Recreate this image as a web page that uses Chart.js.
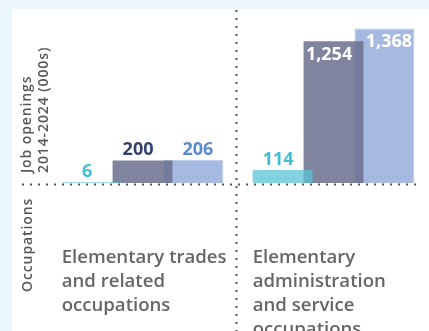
<!DOCTYPE html>
<html>
<head>
<meta charset="utf-8">
<script src="https://cdn.jsdelivr.net/npm/chart.js@4.4.1/dist/chart.umd.min.js"></script>
<style>
  html, body { margin: 0; padding: 0; overflow: hidden; }
  body { width: 429px; height: 331px; background: #eaf6f9; position: relative; }
  .panel { position: absolute; left: 12px; top: 9px; right: 0; bottom: 0; background: #fff; }
  canvas { position: absolute; left: 0; top: 0; }
</style>
</head>
<body>
<div class="panel"></div>
<canvas id="jobsChart" width="429" height="331"></canvas>
<script>
// Job openings 2014-2024, in thousands
const occupations = [
    ['Elementary trades', 'and related', 'occupations'],
    ['Elementary', 'administration', 'and service', 'occupations']
];
const expansionDemand = [6, 114];
const replacementDemand = [200, 1254];
const totalOpenings = [206, 1368];
const valueHeader = ['Job openings', '2014-2024 (000s)'];
const categoryHeader = 'Occupations';

const FONT = '"Open Sans", "Noto Sans", sans-serif';

// Dotted rules: one along the baseline, one between the two occupations
const dottedRules = {
    id: 'dottedRules',
    afterDatasetsDraw(chart) {
        const ctx = chart.ctx;
        const x = chart.scales.x;
        const y = chart.scales.y;
        const baseY = y.getPixelForValue(0) + 1.5;
        const midX = Math.round((x.getPixelForValue(0) + x.getPixelForValue(1)) / 2) - 1.5;
        ctx.save();
        ctx.strokeStyle = '#555';
        ctx.lineWidth = 2;
        ctx.setLineDash([2, 6]);
        ctx.beginPath();
        ctx.moveTo(22, baseY);
        ctx.lineTo(chart.width - 8, baseY);
        ctx.stroke();
        ctx.beginPath();
        ctx.moveTo(midX, 10);
        ctx.lineTo(midX, chart.height);
        ctx.stroke();
        ctx.restore();
    }
};

// Value labels: above short bars, inside the top of tall ones
const valueLabels = {
    id: 'valueLabels',
    afterDatasetsDraw(chart) {
        const ctx = chart.ctx;
        const metas = chart.getSortedVisibleDatasetMetas();
        ctx.save();
        ctx.font = 'bold 18px ' + FONT;
        ctx.textAlign = 'center';
        ctx.textBaseline = 'alphabetic';
        metas.forEach((meta, i) => {
            const ds = chart.data.datasets[meta.index];
            meta.data.forEach((bar, j) => {
                const p = bar.getProps(['x', 'y', 'base', 'width'], true);
                let from = p.x - p.width / 2;
                let to = p.x + p.width / 2;
                // centre the label on the part of the bar that is not overlapped
                if (i < metas.length - 1) {
                    const next = metas[i + 1].data[j].getProps(['x', 'width'], true);
                    to = next.x - next.width / 2;
                } else if (i > 0) {
                    const prev = metas[i - 1].data[j].getProps(['x', 'width'], true);
                    from = prev.x + prev.width / 2;
                }
                const inside = p.base - p.y > 60;
                ctx.fillStyle = inside ? '#fff' : ds.labelColor;
                ctx.fillText(ds.data[j].toLocaleString('en-US'), (from + to) / 2, inside ? p.y + 19 : p.y - 5);
            });
        });
        ctx.restore();
    }
};

// Occupation names under each group, plus the rotated row headers
const categoryLabels = {
    id: 'categoryLabels',
    afterDraw(chart) {
        const ctx = chart.ctx;
        const area = chart.chartArea;
        const first = chart.getDatasetMeta(0);
        ctx.save();
        ctx.fillStyle = '#666';
        ctx.textAlign = 'left';
        ctx.textBaseline = 'alphabetic';
        ctx.font = '600 18.6px ' + FONT;
        chart.data.labels.forEach((lines, j) => {
            const p = first.data[j].getProps(['x', 'width'], true);
            lines.forEach((line, k) => {
                ctx.fillText(line, p.x - p.width / 2, area.bottom + 80 + k * 24);
            });
        });

        ctx.fillStyle = '#585858';
        ctx.font = '600 14px ' + FONT;
        ctx.letterSpacing = '0.9px';
        valueHeader.forEach((line, k) => {
            ctx.save();
            ctx.translate(31 + k * 16.5, area.bottom - 10);
            ctx.rotate(-Math.PI / 2);
            ctx.fillText(line, 0, 0);
            ctx.restore();
        });
        ctx.save();
        ctx.translate(31.5, area.bottom + 109);
        ctx.rotate(-Math.PI / 2);
        ctx.fillText(categoryHeader, 0, 0);
        ctx.restore();
        ctx.restore();
    }
};

function drawChart() {
    new Chart(document.getElementById('jobsChart'), {
        type: 'bar',
        data: {
            labels: occupations,
            datasets: [{
                label: 'Expansion demand',
                data: expansionDemand,
                backgroundColor: 'rgba(90, 196, 214, 0.75)',
                labelColor: '#3fbfd2'
            }, {
                label: 'Replacement demand',
                data: replacementDemand,
                backgroundColor: 'rgba(107, 110, 142, 0.85)',
                labelColor: '#33416d'
            }, {
                label: 'Total job openings',
                data: totalOpenings,
                backgroundColor: '#a6b9e0',
                borderColor: '#b8c8ea',
                borderWidth: 1,
                labelColor: '#5b8acf'
            }]
        },
        options: {
            responsive: false,
            animation: false,
            devicePixelRatio: 1,
            layout: {
                padding: { left: 47, right: 0, top: 9, bottom: 148 }
            },
            datasets: {
                bar: {
                    categoryPercentage: 0.8,
                    barPercentage: 1.175
                }
            },
            scales: {
                x: { display: false },
                y: { display: false, min: 0, max: 1540 }
            },
            plugins: {
                legend: { display: false },
                tooltip: { enabled: false }
            }
        },
        plugins: [dottedRules, valueLabels, categoryLabels]
    });
}

Promise.all([
    document.fonts.load('bold 18px "Open Sans"'),
    document.fonts.load('600 18px "Open Sans"')
]).then(drawChart, drawChart);
</script>
</body>
</html>
